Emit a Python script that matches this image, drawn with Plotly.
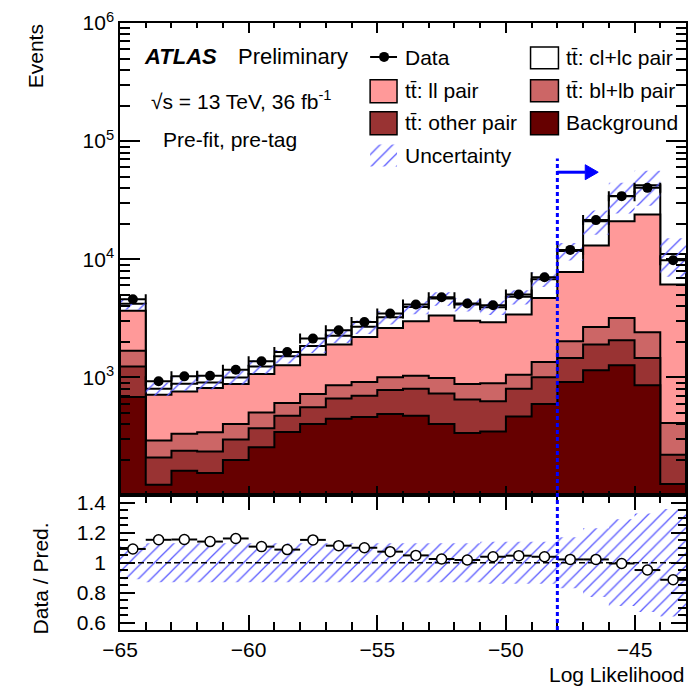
import numpy as np
import plotly.graph_objects as go

# ---- binning: 22 bins of width 1 on the log-likelihood axis ----
bin_edges = list(range(-65, -42))          # -65 ... -43
bin_centers = [e + 0.5 for e in range(-65, -43)]
cut_value = -48

# ---- stacked prediction components (events per bin) ----
background = [681, 123, 162, 155, 200, 256, 344, 402, 447, 461, 489,
              473, 402, 337, 348, 467, 594, 912, 1146, 1265, 856, 125]
tt_other = [552, 87, 77, 81, 97, 115, 129, 155, 214, 239, 292,
            329, 326, 311, 279, 334, 406, 547, 747, 796, 603, 96]
tt_bl_lb = [450, 82, 94, 106, 105, 134, 133, 165, 195, 212, 219,
            231, 258, 229, 262, 253, 349, 559, 775, 1121, 945, 189]
tt_ll = [1987, 421, 427, 469, 475, 562, 659, 834, 1037, 1286, 1620,
         1952, 2350, 2143, 2035, 2344, 3351, 5780, 10394, 17808, 21546, 5697]
tt_cl_lc = [524, 89, 122, 94, 122, 168, 240, 290, 352, 479, 607,
            952, 1310, 1122, 993, 1404, 2061, 3939, 7907, 13382, 18321, 4973]

# ---- observed data ----
data_counts = [4580, 925, 1019, 1033, 1161, 1368, 1637, 2128, 2501, 2945, 3466,
               4130, 4762, 4217, 4074, 5028, 7031, 11995, 21430, 34200, 40200, 9817]

# ---- relative uncertainty on the total prediction ----
rel_unc = [0.11, 0.13, 0.13, 0.13, 0.13, 0.13, 0.13, 0.13, 0.13, 0.13, 0.13,
           0.13, 0.13, 0.13, 0.14, 0.14, 0.14, 0.17, 0.23, 0.29, 0.33, 0.36]

# ---- y-axis tick labels ----
main_tickvals = [1e3, 1e4, 1e5, 1e6]
main_ticktext = ["10<sup>3</sup>", "10<sup>4</sup>", "10<sup>5</sup>", "10<sup>6</sup>"]
ratio_tickvals = [0.6, 0.8, 1.0, 1.2, 1.4]
ratio_ticktext = ["0.6", "0.8", "1", "1.2", "1.4"]

# ---- styling ----
FONT = "Liberation Sans, Arial, Helvetica, sans-serif"
FS = 21
C_BKG = "#660000"
C_OTHER = "#993333"
C_BL = "#CC6666"
C_LL = "#FF9999"
C_CL = "#FFFFFF"
HATCH = dict(shape="/", fgcolor="#5858ff", bgcolor="rgba(0,0,0,0)", size=9,
             solidity=0.14, fgopacity=1)

# plot area in page pixels
L, R, T, B = 120, 688, 21, 630
W_PAGE, H_PAGE = 697, 687
SPLIT = 495  # boundary between main and ratio pads


def px(x):
    return (x - L) / (R - L)


def py(y):
    return (B - y) / (B - T)


def step_polygon(vals, floor):
    xs, ys = [bin_edges[0]], [floor]
    for i, v in enumerate(vals):
        xs += [bin_edges[i], bin_edges[i + 1]]
        ys += [v, v]
    xs.append(bin_edges[-1])
    ys.append(floor)
    return xs, ys


def step_band(lo, hi):
    xs, ys = [], []
    for i, v in enumerate(hi):
        xs += [bin_edges[i], bin_edges[i + 1]]
        ys += [v, v]
    for i in range(len(lo) - 1, -1, -1):
        xs += [bin_edges[i + 1], bin_edges[i]]
        ys += [lo[i], lo[i]]
    xs.append(xs[0])
    ys.append(ys[0])
    return xs, ys


components = [background, tt_other, tt_bl_lb, tt_ll, tt_cl_lc]
colors = [C_BKG, C_OTHER, C_BL, C_LL, C_CL]
cumulative = np.cumsum(np.array(components, dtype=float), axis=0)
total = cumulative[-1]
unc = np.array(rel_unc)
data_arr = np.array(data_counts, dtype=float)
ratio = data_arr / total

fig = go.Figure()

# stacked histograms: largest cumulative first so smaller layers sit on top
for k in range(len(components) - 1, -1, -1):
    xs, ys = step_polygon(cumulative[k], 1.0)
    fig.add_trace(go.Scatter(
        x=xs, y=ys, mode="lines", fill="toself", fillcolor=colors[k],
        line=dict(color="black", width=2), hoverinfo="skip", showlegend=False,
        xaxis="x", yaxis="y"))

# uncertainty band on the total prediction
bx, by = step_band(total * (1 - unc), total * (1 + unc))
fig.add_trace(go.Scatter(
    x=bx, y=by, mode="lines", fill="toself", fillcolor="rgba(0,0,0,0)",
    fillpattern=HATCH, line=dict(width=0), hoverinfo="skip", showlegend=False,
    xaxis="x", yaxis="y"))

# data points
fig.add_trace(go.Scatter(
    x=bin_centers, y=data_counts, mode="markers",
    marker=dict(color="black", size=10),
    error_x=dict(type="constant", value=0.5, width=5, thickness=2, color="black"),
    showlegend=False, xaxis="x", yaxis="y"))

# ---- ratio pad ----
rx, ry = step_band(1 - unc, 1 + unc)
fig.add_trace(go.Scatter(
    x=rx, y=ry, mode="lines", fill="toself", fillcolor="rgba(0,0,0,0)",
    fillpattern=HATCH, line=dict(width=0), hoverinfo="skip", showlegend=False,
    xaxis="x2", yaxis="y2"))
fig.add_trace(go.Scatter(
    x=[bin_edges[0], bin_edges[-1]], y=[1, 1], mode="lines",
    line=dict(color="black", width=1.5, dash="6px,3px"),
    hoverinfo="skip", showlegend=False, xaxis="x2", yaxis="y2"))
fig.add_trace(go.Scatter(
    x=bin_centers, y=ratio, mode="markers",
    marker=dict(symbol="circle", color="white", size=10,
                line=dict(color="black", width=1.5)),
    error_x=dict(type="constant", value=0.5, width=0, thickness=2, color="black"),
    showlegend=False, xaxis="x2", yaxis="y2"))

# ---- legend (drawn on an overlay axis measured in page pixels) ----
leg_axis = dict(xaxis="x3", yaxis="y3", hoverinfo="skip", showlegend=False)
fig.add_trace(go.Scatter(x=[371, 398], y=[55, 55], mode="lines",
                         line=dict(color="black", width=2), **leg_axis))
fig.add_trace(go.Scatter(x=[385], y=[55], mode="markers",
                         marker=dict(color="black", size=10), **leg_axis))
fig.add_trace(go.Scatter(x=[371, 398, 398, 371, 371], y=[143, 143, 165, 165, 143],
                         mode="lines", fill="toself", fillcolor="rgba(0,0,0,0)",
                         fillpattern=HATCH, line=dict(width=0), **leg_axis))

shapes = []
legend_boxes = [
    (371, 78, 398, 101, C_LL), (371, 110, 398, 133, C_OTHER),
    (532, 45, 560, 67, C_CL), (532, 78, 560, 100, C_BL), (532, 110, 560, 133, C_BKG),
]
for x0, y0, x1, y1, c in legend_boxes:
    shapes.append(dict(type="rect", xref="paper", yref="paper",
                       x0=px(x0), x1=px(x1), y0=py(y1), y1=py(y0),
                       fillcolor=c, line=dict(color="black", width=1.5), layer="above"))

# selection cut and arrow
shapes.append(dict(type="line", xref="x", yref="paper", x0=cut_value, x1=cut_value,
                   y0=0, y1=py(157), line=dict(color="blue", width=3, dash="4px,3px"),
                   layer="above"))
arrow_y = py(170.7)
arrow_tip = cut_value + (600 - 559) / 25.82
arrow_base = cut_value + (587 - 559) / 25.82
shapes.append(dict(type="line", xref="x", yref="paper", x0=cut_value, x1=arrow_base,
                   y0=arrow_y, y1=arrow_y, line=dict(color="blue", width=3), layer="above"))
hh = 7.5 / (B - T)
shapes.append(dict(type="path", xref="x", yref="paper",
                   path=f"M {arrow_base},{arrow_y + hh} L {arrow_tip},{arrow_y} L {arrow_base},{arrow_y - hh} Z",
                   fillcolor="blue", line=dict(color="blue", width=1), layer="above"))

tfont = dict(family=FONT, size=FS, color="black")
annotations = []


def txt(text, x, y, xanchor="left", yanchor="middle", angle=0, size=FS):
    annotations.append(dict(text=text, x=px(x), y=py(y), xref="paper", yref="paper",
                            xanchor=xanchor, yanchor=yanchor, showarrow=False,
                            textangle=angle, font=dict(family=FONT, size=size, color="black")))


txt("<b><i>ATLAS</i></b>", 142, 55, size=22)
txt("Preliminary", 236, 55, size=22)
txt("\u221as = 13 TeV, 36 fb<sup>-1</sup>", 149, 98)
txt("Pre-fit, pre-tag", 161, 138)

txt("Data", 404, 56)
txt("tt\u0304: ll pair", 404, 89)
txt("tt\u0304: other pair", 404, 121)
txt("Uncertainty", 404, 154)
txt("tt\u0304: cl+lc pair", 566, 56)
txt("tt\u0304: bl+lb pair", 566, 89)
txt("Background", 566, 121)

txt("Events", 35, 20, xanchor="center", yanchor="top", angle=-90)
txt("Data / Pred.", 40, 578, xanchor="center", yanchor="middle", angle=-90)
txt("Log Likelihood", 688, 675, xanchor="right", yanchor="middle")

split_frac = py(SPLIT)
common_x = dict(range=[bin_edges[0], bin_edges[-1]], tick0=-65, dtick=5, ticks="inside",
                mirror="allticks", showline=True, linecolor="black", linewidth=1.5,
                showgrid=False, zeroline=False, tickcolor="black", tickwidth=1.5)
minor_log = [m * 10 ** d for d in range(2, 6) for m in range(2, 10)]

fig.update_layout(
    width=W_PAGE, height=H_PAGE,
    margin=dict(l=L, r=W_PAGE - R, t=T, b=H_PAGE - B, pad=0),
    paper_bgcolor="white", plot_bgcolor="white",
    font=tfont, showlegend=False,
    xaxis=dict(common_x, anchor="y", domain=[0, 1], matches="x2", showticklabels=False,
               ticklen=10, minor=dict(dtick=1, ticks="inside", ticklen=5,
                                      tickcolor="black", tickwidth=1.5)),
    yaxis=dict(type="log", range=[2, 6], domain=[split_frac, 1], anchor="x",
               tickvals=main_tickvals, ticktext=main_ticktext, ticks="inside", ticklen=20,
               mirror="allticks", showline=True, linecolor="black", linewidth=1.5,
               showgrid=False, zeroline=False, tickcolor="black", tickwidth=1.5,
               tickfont=tfont,
               minor=dict(tickvals=minor_log, ticks="inside", ticklen=10,
                          tickcolor="black", tickwidth=1.5)),
    xaxis2=dict(common_x, anchor="y2", domain=[0, 1], ticklen=15, tickfont=tfont,
                minor=dict(dtick=1, ticks="inside", ticklen=8,
                           tickcolor="black", tickwidth=1.5)),
    yaxis2=dict(range=[0.55, 1.45], domain=[0, split_frac], anchor="x2",
                tickvals=ratio_tickvals, ticktext=ratio_ticktext, ticks="inside", ticklen=15,
                mirror="allticks", showline=True, linecolor="black", linewidth=1.5,
                showgrid=False, zeroline=False, tickcolor="black", tickwidth=1.5,
                tickfont=tfont, ticklabelstandoff=8,
                minor=dict(dtick=0.05, ticks="inside", ticklen=8,
                           tickcolor="black", tickwidth=1.5)),
    xaxis3=dict(overlaying="x", range=[L, R], visible=False, fixedrange=True),
    yaxis3=dict(overlaying="y", range=[SPLIT, T], visible=False, fixedrange=True),
    shapes=shapes, annotations=annotations,
)

fig.write_html("out.html")
